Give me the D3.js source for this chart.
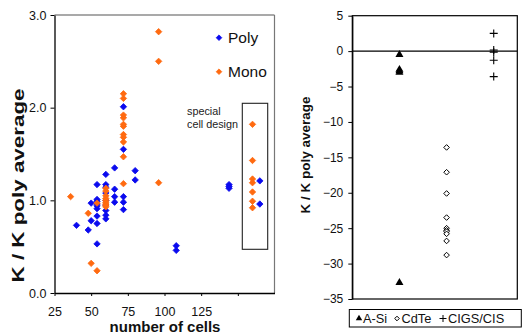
<!DOCTYPE html>
<html><head><meta charset="utf-8">
<script src="https://cdn.jsdelivr.net/npm/d3@7"></script>
<style>body{margin:0;background:#fff}svg{display:block;font-family:"Liberation Sans",Arial,sans-serif}</style>
</head><body>
<svg id="c" width="527" height="334"></svg>
<script>
// ---- Left chart data ----
const polyCells  = [40,48,50,50,54,54,54,54,54,54,54,54,54,60,60,60,60,60,60,60,60,60,66,66,66,66,72,72,72,72,72,80,80,108,108,144,144,144];
const polyValues = [0.73,0.68,0.78,0.97,1.17,1.01,0.99,0.96,0.94,0.91,0.83,0.75,0.53,1.28,1.17,1.14,1.08,1.0,0.95,0.89,0.84,0.80,1.35,1.12,1.04,0.98,2.01,1.55,1.04,0.98,0.90,1.32,1.22,0.51,0.46,1.17,1.15,1.13];
const monoCells  = [36,48,54,50,54,60,60,60,60,60,60,60,60,60,72,72,72,72,72,72,72,72,72,72,72,96,96,96];
const monoValues = [1.04,0.86,0.97,0.32,0.24,1.13,1.10,1.05,1.02,1.0,0.98,0.96,0.95,0.93,2.15,2.10,1.92,1.89,1.82,1.80,1.71,1.68,1.63,1.47,1.18,2.82,2.50,1.19];
const specialPolyCells  = [165,165];
const specialPolyValues = [1.21,0.96];
const specialMonoCells  = [160,160,160,160,160,160,160];
const specialMonoValues = [1.82,1.43,1.23,1.19,1.09,0.99,0.92];
const leftXTicks = [25,50,75,100,125,150];
const leftXTickLabels = ["25","50","75","100","125",""];
const leftYTicks = [0,1,2,3];
const leftSeries = ["Poly","Mono"];

// ---- Right chart data ----
const techCategories = ["A-Si","CdTe","CIGS/CIS"];
const aSiValues  = [-0.5,-2.6,-2.8,-3.0,-32.7];
const cdTeValues = [-13.6,-17.1,-20.1,-23.5,-25.0,-25.3,-25.5,-25.8,-26.8,-28.8];
const cigsValues = [2.5,0.15,-0.15,-1.3,-3.6];
const rightYTicks = [5,0,-5,-10,-15,-20,-25,-30,-35];

const svg = d3.select("#c");
const blue = "#0a0aee", orange = "#ff6a10";
const diaPath = r => `M0,${-r}L${r},0L0,${r}L${-r},0Z`;

// ===== Left chart =====
const L = {x0:54.5, x1:274.5, y0:15, y1:293};
const x = d3.scaleLinear().domain([25,175]).range([L.x0,L.x1]);
const y = d3.scaleLinear().domain([0,3]).range([L.y1,L.y0]);
const gL = svg.append("g");
gL.append("line").attr("x1",L.x0).attr("x2",L.x1).attr("y1",L.y0).attr("y2",L.y0).attr("stroke","#555").attr("stroke-width",1.2);
gL.append("line").attr("x1",L.x1).attr("x2",L.x1).attr("y1",L.y0).attr("y2",L.y1).attr("stroke","#777").attr("stroke-width",1.2);
const xa = gL.append("g").attr("transform",`translate(0,${L.y1})`)
  .call(d3.axisBottom(x).tickValues(leftXTicks).tickFormat((d,i)=>leftXTickLabels[i]).tickSize(3).tickSizeOuter(0));
const ya = gL.append("g").attr("transform",`translate(${L.x0},0)`)
  .call(d3.axisLeft(y).tickValues(leftYTicks).tickFormat(d3.format(".1f")).tickSize(4).tickSizeOuter(0));
[xa,ya].forEach(a=>{a.select(".domain").attr("stroke","#000").attr("stroke-width",1.3);
  a.selectAll("line").attr("stroke","#000");
  a.selectAll("text").attr("font-size",12.5).attr("fill","#111").attr("font-family","Liberation Sans, Arial, sans-serif");});
xa.selectAll("text").attr("dy","1.35em");
ya.selectAll("text").attr("dx","-1px");

function dots(cells, vals, col){
  gL.append("g").selectAll("path").data(cells.map((c,i)=>[c,vals[i]])).join("path")
    .attr("d",diaPath(3.2)).attr("transform",d=>`translate(${x(d[0])},${y(d[1])})`)
    .attr("fill",col).attr("stroke",col).attr("stroke-width",0.8);
}
dots(polyCells,polyValues,blue);
dots(monoCells,monoValues,orange);
dots(specialMonoCells,specialMonoValues,orange);
dots(specialPolyCells,specialPolyValues,blue);

gL.append("rect").attr("x",242.3).attr("y",103.3).attr("width",25.4).attr("height",146)
  .attr("fill","none").attr("stroke","#222").attr("stroke-width",1.1);
gL.append("text").attr("x",187).attr("y",115).attr("font-size",10.8).attr("fill","#222").text("special");
gL.append("text").attr("x",187).attr("y",128).attr("font-size",10.8).attr("fill","#222").text("cell design");

leftSeries.forEach((s,i)=>{
  const ly = 37.7 + i*34;
  gL.append("path").attr("d",diaPath(2.8)).attr("transform",`translate(219,${ly})`).attr("fill",i?orange:blue).attr("stroke",i?orange:blue).attr("stroke-width",0.8);
  gL.append("text").attr("x",228).attr("y",ly+5.5).attr("font-size",15.5).attr("fill","#111").text(s);
});
gL.append("text").attr("transform","translate(24,185.5) rotate(-90)").attr("text-anchor","middle")
  .attr("font-size",16).attr("font-weight","bold").attr("fill","#111")
  .attr("textLength",194).attr("lengthAdjust","spacingAndGlyphs").text("K / K poly average");
gL.append("text").attr("x",165).attr("y",332).attr("text-anchor","middle")
  .attr("font-size",15).attr("font-weight","bold").attr("fill","#111").text("number of cells");

// ===== Right chart =====
const R = {x0:352.3, x1:517.3, y0:15.7, y1:299};
const xr = d3.scaleLinear().domain([0,3.5]).range([R.x0,R.x1]);
const yr = d3.scaleLinear().domain([-35,5]).range([R.y1,R.y0]);
const gR = svg.append("g");
gR.append("rect").attr("x",R.x0).attr("y",R.y0).attr("width",R.x1-R.x0).attr("height",R.y1-R.y0)
  .attr("fill","none").attr("stroke","#000").attr("stroke-width",1.2);
gR.append("line").attr("x1",R.x0).attr("x2",R.x1).attr("y1",yr(0)).attr("y2",yr(0)).attr("stroke","#000").attr("stroke-width",1.2);
const yra = gR.append("g").attr("transform",`translate(${R.x0},0)`)
  .call(d3.axisLeft(yr).tickValues(rightYTicks).tickFormat(d3.format("d")).tickSize(4).tickSizeOuter(0));
yra.select(".domain").attr("stroke","#000").attr("stroke-width",1.2);
yra.selectAll("line").attr("stroke","#000");
yra.selectAll("text").attr("font-size",12).attr("fill","#111").attr("font-family","Liberation Sans, Arial, sans-serif").attr("dx","-2px");

const tri = d3.symbol().type(d3.symbolTriangle).size(28);
const seriesR = [aSiValues,cdTeValues,cigsValues];
seriesR.forEach((vals,ci)=>{
  const g = gR.append("g");
  vals.forEach(v=>{
    const px = xr(ci+1), py = yr(v);
    if(ci===0) g.append("path").attr("d",tri).attr("transform",`translate(${px},${py})`).attr("fill","#000");
    else if(ci===1) g.append("path").attr("d",diaPath(2.8)).attr("transform",`translate(${px},${py})`).attr("fill","#fff").attr("stroke","#000").attr("stroke-width",1);
    else g.append("path").attr("d",`M${px-4},${py}H${px+4}M${px},${py-4}V${py+4}`).attr("stroke","#000").attr("stroke-width",1.1);
  });
});
gR.append("text").attr("transform","translate(310,155) rotate(-90)").attr("text-anchor","middle")
  .attr("font-size",13.5).attr("font-weight","bold").attr("fill","#111").text("K / K poly average");

gR.append("rect").attr("x",349.3).attr("y",309.5).attr("width",172).attr("height",17.5)
  .attr("fill","#fff").attr("stroke","#000").attr("stroke-width",1);
const legX = [[359,363],[397,401.5],[443,448]];
techCategories.forEach((c,i)=>{
  const [mx,tx] = legX[i], my = 318.5;
  if(i===0) gR.append("path").attr("d",d3.symbol().type(d3.symbolTriangle).size(18)).attr("transform",`translate(${mx},${my})`).attr("fill","#000");
  else if(i===1) gR.append("path").attr("d",diaPath(2.3)).attr("transform",`translate(${mx},${my})`).attr("fill","#fff").attr("stroke","#000");
  else gR.append("path").attr("d",`M${mx-3.5},${my}H${mx+3.5}M${mx},${my-3.5}V${my+3.5}`).attr("stroke","#000");
  gR.append("text").attr("x",tx).attr("y",my+4.8).attr("font-size",12.8).attr("fill","#111").text(c);
});
</script>
</body></html>
